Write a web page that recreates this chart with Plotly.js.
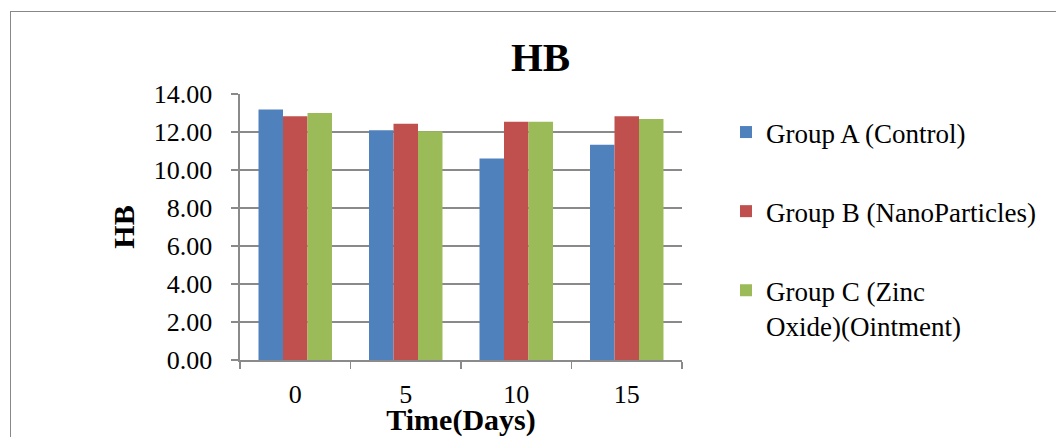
<!DOCTYPE html>
<html>
<head>
<meta charset="utf-8">
<script src="https://cdn.plot.ly/plotly-3.0.1.min.js"></script>
<style>
  html, body { margin: 0; padding: 0; background: #ffffff; }
  #wrap { position: relative; width: 1056px; height: 437px; overflow: hidden; }
  #chart { width: 1056px; height: 437px; }
  #frame {
    position: absolute; left: 10px; top: 11px; width: 1100px; height: 500px;
    border-left: 1.5px solid #888888; border-top: 1.5px solid #888888;
    pointer-events: none;
  }
</style>
</head>
<body>
<div id="wrap">
  <div id="chart"></div>
  <div id="frame"></div>
</div>
<script>
// Haemoglobin (HB) by day of treatment, one series per group
const days = ['0', '5', '10', '15'];
const groupNames = [
  'Group A (Control)',
  'Group B (NanoParticles)',
  'Group C (Zinc<br>Oxide)(Ointment)'
];
const groupA = [13.19, 12.09, 10.60, 11.33];
const groupB = [12.83, 12.44, 12.54, 12.83];
const groupC = [13.00, 12.04, 12.54, 12.68];
const yTicks = [0, 2, 4, 6, 8, 10, 12, 14];

const colors = ['#4F81BD', '#C0504D', '#9BBB59'];
const series = [groupA, groupB, groupC];

const serif = 'Liberation Serif, Times New Roman, serif';
const gridGray = '#8a8a8a';

const traces = series.map((vals, i) => ({
  type: 'bar',
  name: groupNames[i],
  x: days,
  y: vals,
  legendgroup: 'g' + i,
  marker: { color: colors[i], line: { width: 0 } },
  hoverinfo: 'x+y+name'
}));

const layout = {
  width: 1056,
  height: 437,
  margin: { l: 240, r: 374, t: 94, b: 76.5, pad: 0 },
  paper_bgcolor: '#ffffff',
  plot_bgcolor: '#ffffff',
  barmode: 'group',
  bargap: 0.335,
  bargroupgap: 0,
  showlegend: true,
  title: {
    text: '<b>HB</b>',
    font: { family: serif, size: 41, color: '#000000' },
    xref: 'container', yref: 'container',
    x: 540.5 / 1056, xanchor: 'center',
    y: 1 - 57 / 437, yanchor: 'middle'
  },
  legend: {
    xref: 'container', yref: 'container',
    x: 726 / 1056, xanchor: 'left',
    y: 1 - 108 / 437, yanchor: 'top',
    maxheight: 437,
    traceorder: 'grouped',
    tracegroupgap: 41,
    valign: 'top',
    font: { family: serif, size: 27, color: '#000000' },
    bgcolor: 'rgba(0,0,0,0)'
  },
  xaxis: {
    type: 'category',
    categoryorder: 'array',
    categoryarray: days,
    showgrid: false,
    showline: true,
    linecolor: gridGray,
    linewidth: 1.6,
    ticks: 'outside',
    tickson: 'boundaries',
    ticklen: 7,
    tickwidth: 1.6,
    tickcolor: gridGray,
    ticklabelstandoff: 10,
    tickfont: { family: serif, size: 26, color: '#000000' },
    title: {
      text: '<b>Time(Days)</b>',
      font: { family: serif, size: 30, color: '#000000' },
      standoff: 0
    },
    zeroline: false
  },
  yaxis: {
    range: [0, 14],
    tickvals: yTicks,
    tickformat: '.2f',
    showgrid: true,
    gridcolor: gridGray,
    gridwidth: 1.6,
    showline: true,
    linecolor: gridGray,
    linewidth: 1.6,
    ticks: 'outside',
    ticklen: 7,
    tickwidth: 1.6,
    tickcolor: gridGray,
    ticklabelstandoff: 14,
    tickfont: { family: serif, size: 26, color: '#000000' },
    title: {
      text: '<b>HB</b>',
      font: { family: serif, size: 30, color: '#000000' },
      standoff: 10
    },
    zeroline: false
  }
};

Plotly.newPlot('chart', traces, layout, { displayModeBar: false, staticPlot: true });
</script>
</body>
</html>
